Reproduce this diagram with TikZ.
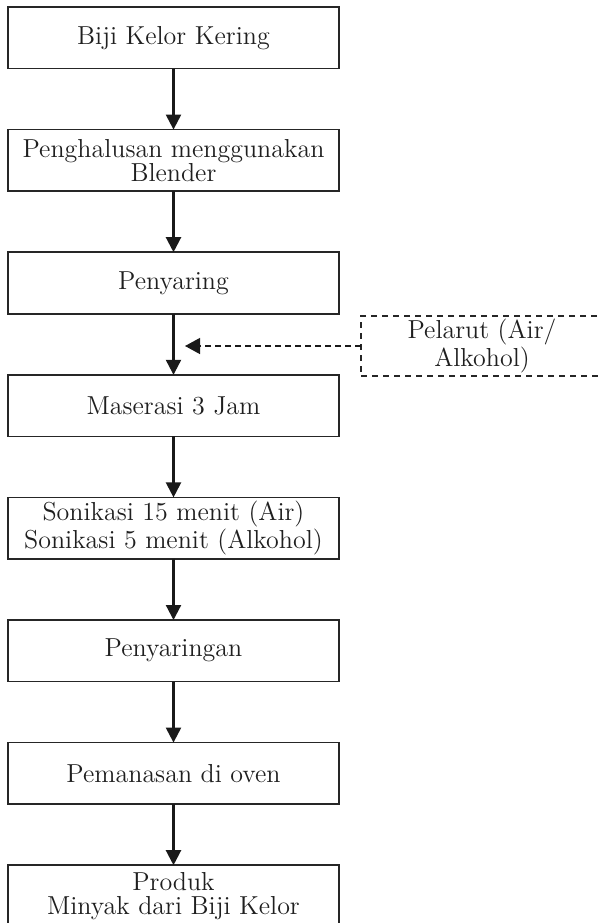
\documentclass[tikz,border=0pt]{standalone}
\usetikzlibrary{arrows.meta}
\begin{document}
\begin{tikzpicture}[x=0.5pt,y=-0.5pt,
  stepbox/.style={draw=black!85,line width=0.8pt,minimum width=165.5pt,minimum height=30.75pt,
    inner sep=0pt,outer sep=0pt,align=center,text=black!88,font=\fontsize{13}{11.9}\selectfont},
  dashbox/.style={draw=black!85,line width=0.6pt,dash pattern=on 3pt off 2.5pt,minimum width=121pt,
    minimum height=30pt,inner sep=0pt,outer sep=0pt,align=center,text=black!88,font=\fontsize{13}{11.9}\selectfont},
  arr/.style={draw=black!90,line width=1.1pt,-{Triangle[length=7.5pt,width=7.5pt]}},
  darr/.style={draw=black!90,line width=0.6pt,dash pattern=on 3pt off 2pt,-{Triangle[length=7.5pt,width=8pt]}}]
\useasboundingbox (0,0) rectangle (601,923);
\node[stepbox] (b1) at (173.5,37.75) {Biji Kelor Kering};
\node[stepbox] (b2) at (173.5,160.35) {Penghalusan menggunakan\\Blender};
\node[stepbox] (b3) at (173.5,282.95) {Penyaring};
\node[stepbox] (b4) at (173.5,405.55) {Maserasi 3 Jam};
\node[stepbox] (b5) at (173.5,528.15) {Sonikasi 15 menit (Air)\\Sonikasi 5 menit (Alkohol)};
\node[stepbox] (b6) at (173.5,650.75) {Penyaringan};
\node[stepbox] (b7) at (173.5,773.35) {Pemanasan di oven};
\node[stepbox] (b8) at (173.5,895.95) {Produk\\Minyak dari Biji Kelor};
\node[dashbox] (d) at (482,346) {Pelarut (Air/\\Alkohol)};
\coordinate (jn) at (185,343);
\draw[arr] (b1) -- (b2);
\draw[arr] (b2) -- (b3);
\draw[arr] (b3) -- (b4);
\draw[arr] (b4) -- (b5);
\draw[arr] (b5) -- (b6);
\draw[arr] (b6) -- (b7);
\draw[arr] (b7) -- (b8);
\draw[darr] (d.west) -- (d.west -| jn);
\end{tikzpicture}
\end{document}
